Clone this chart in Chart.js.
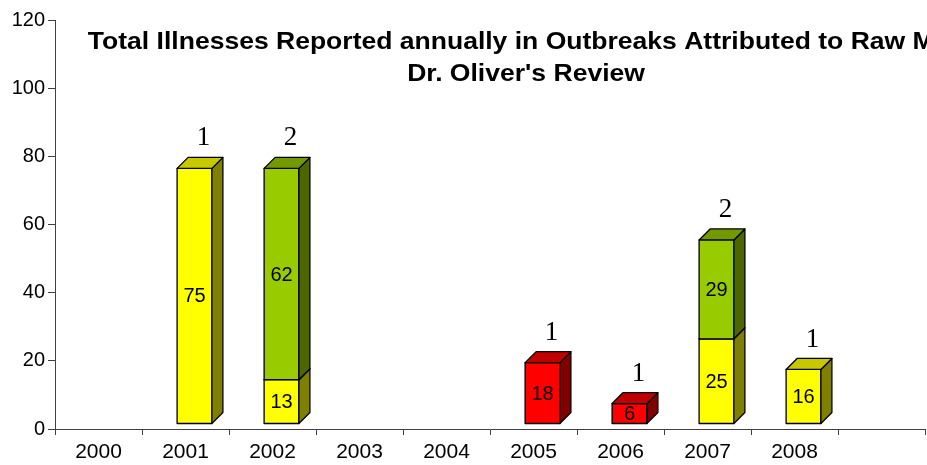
<!DOCTYPE html>
<html>
<head>
<meta charset="utf-8">
<script src="https://cdn.jsdelivr.net/npm/chart.js@4"></script>
<style>
    body { margin: 0; background: #fff; }
    #wrap { width: 927px; height: 465px; position: relative; }
</style>
</head>
<body>
<div id="wrap"><canvas id="illnessChart"></canvas></div>
<script>
/* Raw milk outbreak illnesses, 3D stacked columns */

const categories = ['2000', '2001', '2002', '2003', '2004', '2005', '2006', '2007', '2008', ''];
const yellowIllnesses = [null, 75, 13, null, null, null, null, 25, 16, null];
const greenIllnesses = [null, null, 62, null, null, null, null, 29, null, null];
const redIllnesses = [null, null, null, null, null, 18, 6, null, null, null];
const outbreakCounts = [null, 1, 2, null, null, 1, 1, 2, 1, null];
const yTicks = [0, 20, 40, 60, 80, 100, 120];
const titleLines = ['Total Illnesses Reported annually in Outbreaks Attributed to Raw Milk', "Dr. Oliver's Review"];

const SHIFT_X = 9, SHIFT_Y = -5, DEPTH = 11;
const faceColors = [
    { front: '#FFFF00', side: '#808000', top: '#C8C800' },
    { front: '#99CC00', side: '#4D6600', top: '#739900' },
    { front: '#FF0000', side: '#800000', top: '#C00000' },
];

const bar3d = {
    id: 'bar3d',
    beforeDatasetsDraw(chart) {
        chart.ctx.save();
        chart.ctx.translate(SHIFT_X, SHIFT_Y);
    },
    afterDatasetsDraw(chart) {
        const ctx = chart.ctx;
        ctx.lineWidth = 1.3;
        ctx.strokeStyle = '#000';
        ctx.lineJoin = 'round';
        // bottom segment first so upper fronts hide the lower top faces
        chart.data.datasets.forEach((ds, di) => {
            const meta = chart.getDatasetMeta(di);
            const col = faceColors[di];
            meta.data.forEach((el, i) => {
                if (ds.data[i] == null) return;
                const { x, y, base, width } = el.getProps(['x', 'y', 'base', 'width'], true);
                const l = x - width / 2, r = x + width / 2;
                ctx.fillStyle = col.front;
                ctx.fillRect(l, y, width, base - y);
                ctx.strokeRect(l, y, width, base - y);
                ctx.beginPath();
                ctx.moveTo(r, base); ctx.lineTo(r + DEPTH, base - DEPTH);
                ctx.lineTo(r + DEPTH, y - DEPTH); ctx.lineTo(r, y); ctx.closePath();
                ctx.fillStyle = col.side; ctx.fill(); ctx.stroke();
                ctx.beginPath();
                ctx.moveTo(l, y); ctx.lineTo(l + DEPTH, y - DEPTH);
                ctx.lineTo(r + DEPTH, y - DEPTH); ctx.lineTo(r, y); ctx.closePath();
                ctx.fillStyle = col.top; ctx.fill(); ctx.stroke();
            });
        });
        // values inside bars
        ctx.fillStyle = '#000';
        ctx.font = '20px "Liberation Sans", Arial, sans-serif';
        ctx.textAlign = 'center';
        ctx.textBaseline = 'middle';
        chart.data.datasets.forEach((ds, di) => {
            chart.getDatasetMeta(di).data.forEach((el, i) => {
                if (ds.data[i] == null) return;
                const { x, y, base } = el.getProps(['x', 'y', 'base'], true);
                ctx.fillText(String(ds.data[i]), x, (y + base) / 2 + 1);
            });
        });
        // outbreak counts above stacks
        ctx.font = '27px "Liberation Serif", "Times New Roman", serif';
        const yScale = chart.scales.y, xScale = chart.scales.x;
        outbreakCounts.forEach((n, i) => {
            if (n == null) return;
            const total = chart.data.datasets.reduce((s, ds) => s + (ds.data[i] || 0), 0);
            const px = xScale.getPixelForValue(i);
            const py = yScale.getPixelForValue(total);
            ctx.fillText(String(n), px + 9, py - DEPTH - 19);
        });
        ctx.restore();
    },
};

const titlePlugin = {
    id: 'titleText',
    afterDraw(chart) {
        const ctx = chart.ctx;
        ctx.save();
        ctx.fillStyle = '#000';
        ctx.font = 'bold 24px "Liberation Sans", Arial, sans-serif';
        ctx.textAlign = 'center';
        ctx.textBaseline = 'middle';
        // the original title is a little stretched sideways
        ctx.translate(526, 0);
        ctx.scale(1.105, 1);
        ctx.fillText(titleLines[0], 0, 42);
        ctx.fillText(titleLines[1], 0, 74);
        ctx.restore();
    },
};

const tickFont = { family: '"Liberation Sans", Arial, sans-serif', size: 20 };

new Chart(document.getElementById('illnessChart'), {
    type: 'bar',
    data: {
        labels: categories,
        datasets: [
            { label: 'Yellow', data: yellowIllnesses, backgroundColor: faceColors[0].front },
            { label: 'Green', data: greenIllnesses, backgroundColor: faceColors[1].front },
            { label: 'Red', data: redIllnesses, backgroundColor: faceColors[2].front },
        ],
    },
    options: {
        responsive: true,
        maintainAspectRatio: false,
        animation: false,
        barPercentage: 0.4,
        categoryPercentage: 1,
        layout: { padding: { top: 20, right: 2, left: 0, bottom: 0 } },
        plugins: { legend: { display: false }, tooltip: { enabled: false }, title: { display: false } },
        scales: {
            x: {
                stacked: true,
                afterFit: s => { s.height = 36; },
                border: { color: '#404040', width: 1 },
                grid: { offset: true, drawOnChartArea: false, drawTicks: true, tickLength: 6, color: '#404040' },
                ticks: { color: '#000', font: { ...tickFont, size: 21 }, padding: 5, maxRotation: 0, autoSkip: false },
            },
            y: {
                stacked: true,
                min: 0,
                max: 120,
                afterFit: s => { s.width = 55; },
                afterBuildTicks: s => { s.ticks = yTicks.map(v => ({ value: v })); },
                border: { color: '#404040', width: 1 },
                grid: { drawOnChartArea: false, drawTicks: true, tickLength: 7, color: '#404040' },
                ticks: { color: '#000', font: tickFont, padding: 3 },
            },
        },
    },
    plugins: [bar3d, titlePlugin],
});
</script>
</body>
</html>
